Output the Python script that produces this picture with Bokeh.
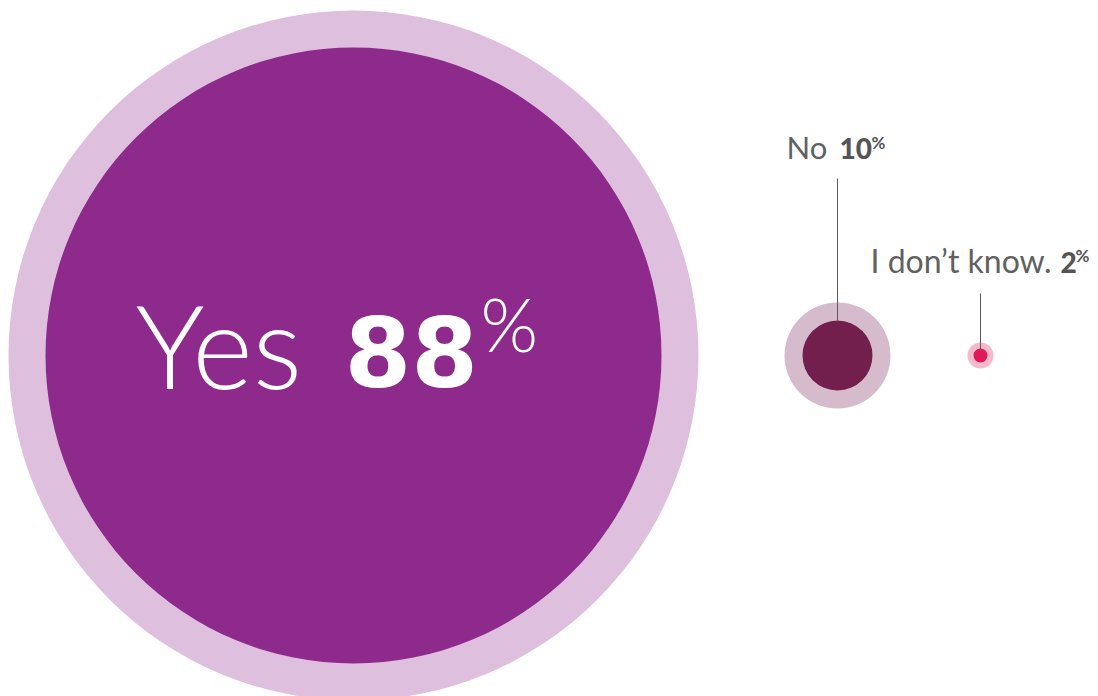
from bokeh.plotting import figure
from bokeh.models import Range1d, ColumnDataSource
from bokeh.core.properties import value
from bokeh.embed import file_html
from bokeh.resources import INLINE

# ---- data ----
categories = ["Yes", "No", "I don't know."]
values = [88, 10, 2]
pct_labels = [f"{v}" for v in values]

# ---- layout (pixel geometry, y measured downward from top) ----
W, H = 1098, 696
centers_x = [353, 837, 980]
center_y = 355
outer_r = [345, 53, 13]
inner_r = [308, 35, 7]
outer_colors = ["#DEBFDD", "#D6BBCC", "#F4BACB"]
inner_colors = ["#8D2A8B", "#731F4E", "#E0195A"]

p = figure(width=W, height=H, output_backend="svg", toolbar_location=None,
           x_range=Range1d(0, W), y_range=Range1d(0, H), min_border=0)
p.axis.visible = False
p.grid.visible = False
p.outline_line_color = None
p.background_fill_color = "white"
p.border_fill_color = "white"

def Y(py):
    return H - py

src = ColumnDataSource(dict(
    x=centers_x, y=[Y(center_y)] * 3, ro=outer_r, ri=inner_r,
    co=outer_colors, ci=inner_colors, cat=categories, val=values))
p.circle(x="x", y="y", radius="ro", fill_color="co", line_color=None, source=src)
p.circle(x="x", y="y", radius="ri", fill_color="ci", line_color=None, source=src)

# leader lines
p.segment(x0=[837, 980], y0=[Y(178), Y(293)], x1=[837, 980], y1=[Y(321), Y(349)],
          line_color="#5a5a5a", line_width=1)

gray = "#616161"
dark = "#555555"

def label(x, base_py, txt, size, color, font="Lato", style="normal"):
    # compensate for the renderer's baseline offset
    py = base_py - 0.37 * size
    p.text(x=[x], y=[Y(py)], text=[txt], text_font=value(font),
           text_font_size=f"{size}px", text_color=color,
           text_baseline="alphabetic", text_font_style=style)

# Yes 88%
label(135, 387, categories[0], 116, "white", font="Lato Light")
label(344, 387, pct_labels[0], 96, "white", font="DejaVu Sans", style="bold")
label(480, 350, "%", 74, "white", font="Lato Light")

# No 10%
label(786, 158, categories[1], 31, gray)
label(839, 158, pct_labels[1], 28, dark, font="Lato Black")
label(871, 148, "%", 17, dark, style="bold")

# I don't know. 2%
label(870, 272, "I don\u2019t know.", 32, gray)
label(1060, 272, pct_labels[2], 28, dark, font="Lato Black")
label(1075, 261, "%", 17, dark, style="bold")

open("out.html", "w").write(file_html(p, INLINE))
